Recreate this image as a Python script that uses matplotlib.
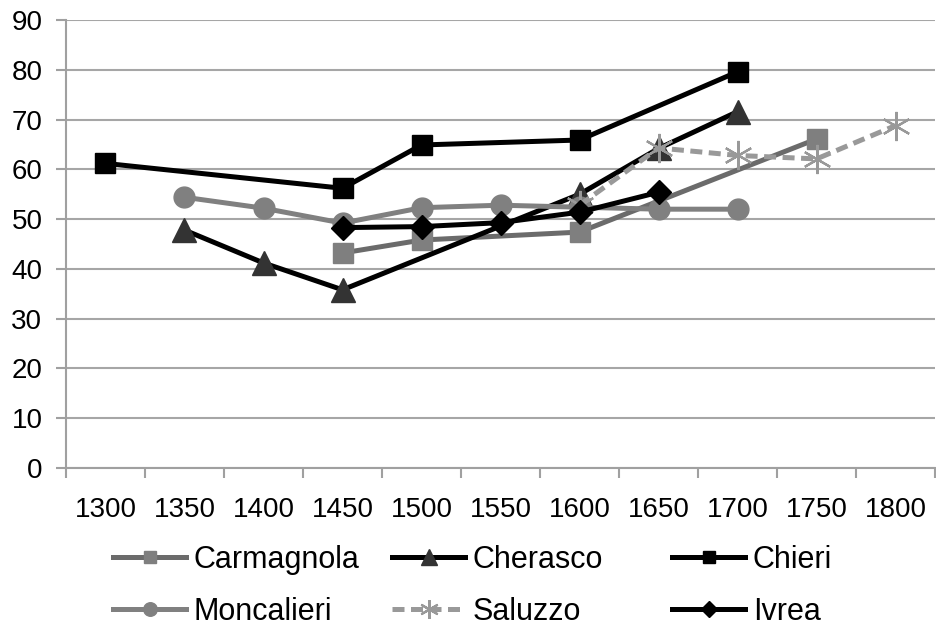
import numpy as np
import matplotlib
matplotlib.use("Agg")
import matplotlib.pyplot as plt

plt.rcParams['font.family'] = ['Liberation Sans', 'DejaVu Sans']

years = ['1300', '1350', '1400', '1450', '1500', '1550', '1600', '1650', '1700', '1750', '1800']
nan = np.nan

carmagnola = [nan, nan, nan, 43.2, 45.8, nan, 47.4, nan, nan, 66.1, nan]
cherasco = [nan, 47.8, 41.2, 35.8, nan, nan, 55.0, 64.2, 71.6, nan, nan]
chieri = [61.2, nan, nan, 56.2, 64.9, nan, 65.9, nan, 79.6, nan, nan]
moncalieri = [nan, 54.4, 52.2, 49.2, 52.3, 52.8, 52.4, 52.0, 52.0, nan, nan]
saluzzo = [nan, nan, nan, nan, nan, nan, 52.8, 64.3, 62.8, 62.1, 68.8]
ivrea = [nan, nan, nan, 48.3, 48.5, 49.3, 51.4, 55.4, nan, nan, nan]

series = [
    ('Carmagnola', carmagnola, dict(color='#6b6b6b', marker='s', ms=14, mfc='#7f7f7f', mec='#7f7f7f', lw=3.6)),
    ('Cherasco', cherasco, dict(color='black', marker='^', ms=17, mfc='#333333', mec='#333333', lw=3.6)),
    ('Chieri', chieri, dict(color='black', marker='s', ms=14, mfc='black', mec='black', lw=3.6)),
    ('Moncalieri', moncalieri, dict(color='#808080', marker='o', ms=15, mfc='#808080', mec='#808080', lw=3.6)),
    ('Saluzzo', saluzzo, dict(color='#999999', marker=(6, 2, 0), ms=21, mfc='#999999', mec='#999999',
                              mew=1.6, lw=3.6, ls=(0, (2.4, 1.3)))),
    ('Ivrea', ivrea, dict(color='black', marker='D', ms=12, mfc='black', mec='black', lw=3.6)),
]

fig = plt.figure(figsize=(9.36, 6.27), dpi=100)
ax = fig.add_axes([0.0705, 0.2536, 0.9285, 0.7144])

x = np.arange(len(years))
handles = []
for name, vals, style in series:
    v = np.array(vals, dtype=float)
    ok = ~np.isnan(v)
    h, = ax.plot(x[ok], v[ok], label=name, **style)
    handles.append(h)

ax.set_xlim(-0.5, len(years) - 0.5)
ax.set_ylim(0, 90)
ax.set_yticks(np.arange(0, 91, 10))
ax.set_xticks(x)
ax.set_xticklabels(years)
ax.set_xticks(np.arange(-0.5, len(years), 1), minor=True)
ax.tick_params(axis='x', which='major', length=0, pad=21, labelsize=20)
ax.tick_params(axis='x', which='minor', length=7, color='#a0a0a0', width=1.5)
ax.tick_params(axis='y', length=7, color='#a0a0a0', width=1.5, labelsize=20, pad=10)

ax.grid(axis='y', color='#a6a6a6', lw=1.5)
ax.set_axisbelow(True)
for s in ['top', 'right']:
    ax.spines[s].set_visible(False)
for s in ['left', 'bottom']:
    ax.spines[s].set_color('#a0a0a0')
    ax.spines[s].set_linewidth(1.5)

# legend: 3 fixed-width columns, filled row by row
col_x = [113 / 936, 392 / 936, 672 / 936]
for i, cx in enumerate(col_x):
    hs = [handles[i], handles[i + 3]]
    fig.legend(hs, [h.get_label() for h in hs], loc='center left', bbox_to_anchor=(cx, 0.066),
               frameon=False, fontsize=22, handlelength=2.4, handletextpad=0.25,
               borderpad=0, borderaxespad=0, labelspacing=0.72, markerscale=0.65)

fig.savefig('out.png', dpi=100)
